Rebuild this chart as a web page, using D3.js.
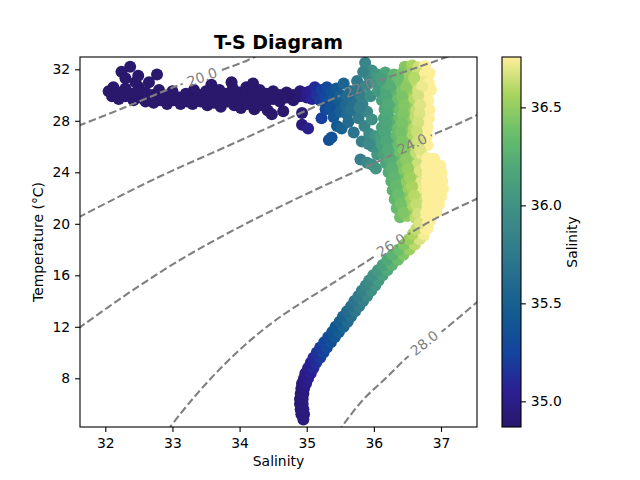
<!DOCTYPE html>
<html>
<head>
<meta charset="utf-8">
<script src="https://d3js.org/d3.v7.min.js"></script>
<style>
  body { margin: 0; background: #fff; }
  svg text { font-family: "DejaVu Sans", sans-serif; }
</style>
</head>
<body>
<script>
(function (){

    //values, every point is [salinity, temperature]

    //warm fresh surface water (dark end of the colour scale)
    var surfacePts = [
        [32.05,30.3],[32.1,29.9],[32.12,30.6],[32.2,30.2],[32.2,29.7],[32.24,31.8],[32.3,30.5],[32.3,29.9],
        [32.3,31.3],[32.37,32.2],[32.4,30.1],[32.42,29.6],[32.45,31.0],[32.49,31.5],[32.5,30.6],[32.52,29.8],
        [32.6,30.2],[32.6,29.5],[32.65,31.0],[32.7,30.0],[32.72,29.4],[32.77,31.6],[32.8,30.4],[32.82,29.6],
        [32.9,29.9],[32.92,29.3],[33.0,30.3],[33.02,29.6],[33.1,29.8],[33.12,29.3],[33.2,30.1],[33.22,29.5],
        [33.3,29.8],[33.3,29.3],[33.32,30.4],[33.4,30.0],[33.42,29.5],[33.5,30.3],[33.5,29.7],[33.52,29.2],
        [33.58,30.8],[33.6,30.0],[33.62,29.4],[33.7,30.4],[33.7,29.7],[33.72,29.1],[33.8,30.1],[33.82,29.5],
        [33.88,31.0],[33.9,30.5],[33.9,29.8],[33.92,29.2],[34.0,30.2],[34.0,29.6],[34.02,29.0],[34.1,30.6],
        [34.1,29.9],[34.12,29.3],[34.2,30.9],[34.2,30.2],[34.2,29.6],[34.22,28.9],[34.3,30.4],[34.3,29.8],
        [34.32,29.2],[34.4,30.1],[34.4,29.5],[34.42,28.8],[34.48,28.5],[34.5,30.3],[34.5,29.7],[34.6,30.0],
        [34.6,29.5],[34.65,28.75],[34.7,30.2],[34.7,29.8],[34.8,30.0],[34.8,29.6],[34.9,29.9],[34.9,30.3],
        [34.93,28.6],[34.93,27.7],[35.0,29.8],[35.0,30.2],[35.02,27.4]
    ];

    //mixing between surface and the salty column
    var transitionPts = [
        [35.05,30.3],[35.08,29.7],[35.12,30.6],[35.15,30.0],[35.2,29.6],[35.22,30.4],[35.27,29.9],[35.3,30.6],
        [35.33,29.5],[35.37,30.2],[35.4,29.8],[35.44,30.5],[35.47,29.4],[35.5,30.0],
        [35.22,28.2],[35.28,28.9],[35.35,29.0],[35.4,28.3],[35.45,27.6],[35.5,28.7],[35.52,27.4],[35.33,26.5],[35.37,26.7],
        [35.55,30.9],[35.58,29.2],[35.6,28.5],[35.62,27.9],[35.65,30.3],[35.68,29.6],[35.7,27.1],[35.72,28.8],
        [35.75,31.1],[35.77,28.2],[35.8,30.0],[35.82,26.4],[35.83,29.3],[35.86,27.6],[35.88,30.7],[35.9,28.7],
        [35.92,31.5],[35.93,27.0],[35.95,29.9],[35.97,28.1],[35.87,32.5],[35.97,31.9],
        [35.8,25.0],[35.9,24.75],[35.97,24.6],[36.03,24.3],[36.05,25.4],[35.98,26.0],[36.02,26.8],
        [35.6,29.9],[35.73,30.4],[35.66,28.9],[35.79,29.0],[35.84,31.8],[35.92,26.2]
    ];

    //salty upper column
    var upperPts = [
        [36.46,32.2],[36.57,32.3],[36.66,32.15],[36.76,32.25],
        [36.05,31.6],[36.17,31.75],[36.3,31.6],[36.42,31.7],[36.53,31.65],[36.65,31.75],[36.76,31.6],[36.83,31.7],
        [36.02,31.0],[36.13,30.9],[36.26,31.1],[36.38,30.95],[36.5,31.05],[36.61,30.9],[36.72,31.05],[36.82,30.95],
        [36.06,30.3],[36.18,30.4],[36.3,30.25],[36.42,30.35],[36.54,30.2],[36.66,30.35],[36.77,30.25],[36.85,30.4],
        [36.12,29.6],[36.24,29.5],[36.36,29.65],[36.48,29.55],[36.6,29.7],[36.71,29.5],[36.81,29.6],
        [36.16,28.9],[36.27,29.0],[36.39,28.85],[36.51,28.95],[36.63,28.8],[36.74,28.95],[36.83,28.85],
        [36.15,28.2],[36.26,28.1],[36.38,28.25],[36.5,28.15],[36.62,28.3],[36.73,28.1],[36.82,28.2],
        [36.12,27.5],[36.24,27.6],[36.36,27.45],[36.48,27.55],[36.6,27.4],[36.71,27.55],[36.8,27.5],
        [36.1,26.8],[36.22,26.7],[36.34,26.85],[36.46,26.75],[36.58,26.9],[36.69,26.75],[36.79,26.8],
        [36.12,26.1],[36.24,26.2],[36.36,26.05],[36.48,26.15],[36.6,26.0],[36.7,26.15],[36.8,26.1],
        [36.15,25.4],[36.27,25.3],[36.39,25.45],[36.51,25.35],[36.63,25.5],[36.72,25.35],
        [36.18,24.7],[36.3,24.8],[36.42,24.65],[36.54,24.75],[36.65,24.6],
        [36.22,24.0],[36.33,23.9],[36.45,24.05],[36.57,23.95],[36.68,24.1],
        [36.26,23.3],[36.37,23.4],[36.49,23.25],[36.61,23.35],[36.7,23.2],
        [36.28,22.6],[36.4,22.5],[36.52,22.65],[36.63,22.55],[36.72,22.7],
        [36.31,21.9],[36.43,22.0],[36.55,21.85],[36.66,21.95],
        [36.34,21.2],[36.46,21.1],[36.58,21.25],[36.69,21.15],
        [36.39,20.5],[36.5,20.6],[36.62,20.45],[36.72,20.55],
        [36.1,31.3],[36.36,31.35],[36.6,31.35],[36.24,30.65],[36.48,30.6],[36.72,30.65],[36.18,29.95],
        [36.42,29.9],[36.66,29.95],[36.21,29.25],[36.45,29.2],[36.69,29.25],[36.2,28.55],[36.44,28.5],
        [36.68,28.55],[36.18,27.85],[36.42,27.8],[36.66,27.85],[36.16,27.15],[36.4,27.1],[36.64,27.15],
        [36.18,26.45],[36.42,26.4],[36.66,26.45],[36.21,25.75],[36.45,25.7],[36.69,25.75],[36.24,25.05],
        [36.48,25.0],[36.27,24.35],[36.51,24.3],[36.3,23.65],[36.54,23.6],[36.33,22.95],[36.57,22.9],
        [36.36,22.25],[36.6,22.2],[36.4,21.55],[36.63,21.5],[36.44,20.85],[36.66,20.8]
    ];

    //salinity maximum core
    var corePts = [
        [36.8,25.1],[36.9,25.05],
        [36.78,24.5],[36.9,24.45],[36.99,24.5],
        [36.8,23.9],[36.92,23.85],[37.01,23.95],
        [36.79,23.3],[36.91,23.25],[37.02,23.3],
        [36.8,22.7],[36.92,22.65],[37.03,22.7],
        [36.8,22.1],[36.91,22.05],[37.0,22.1],
        [36.8,21.5],[36.9,21.45],[36.97,21.5],
        [36.78,20.9],[36.87,20.85],[36.93,20.9],
        [36.76,20.3],[36.84,20.25],
        [36.72,19.7],[36.8,19.65],
        [36.68,19.1],[36.74,19.05]
    ];

    //thermocline down to deep water
    var deepPts = [
        [34.95,4.8],
        [34.92,5.2],[34.96,5.2],[34.91,5.6],[34.95,5.6],[34.9,6.0],[34.94,6.0],[34.9,6.4],[34.94,6.4],
        [34.91,6.8],[34.95,6.8],[34.92,7.2],[34.96,7.2],[34.93,7.6],[34.99,7.6],[34.96,8.0],[35.02,8.0],
        [34.98,8.4],[35.06,8.4],[35.02,8.8],[35.1,8.8],[35.06,9.2],[35.14,9.2],[35.1,9.6],[35.2,9.6],
        [35.15,10.0],[35.25,10.0],[35.2,10.4],[35.3,10.4],[35.26,10.8],[35.36,10.8],[35.32,11.2],[35.42,11.2],
        [35.38,11.6],[35.48,11.6],[35.43,12.0],[35.55,12.0],[35.49,12.4],[35.61,12.4],[35.54,12.8],[35.66,12.8],
        [35.6,13.2],[35.72,13.2],[35.66,13.6],[35.78,13.6],[35.71,14.0],[35.84,14.0],[35.77,14.4],[35.9,14.4],
        [35.82,14.8],[35.96,14.8],[35.88,15.2],[36.02,15.2],[35.93,15.6],[36.07,15.6],[35.99,16.0],[36.13,16.0],
        [36.06,16.4],[36.2,16.4],[36.13,16.8],[36.27,16.8],[36.2,17.2],[36.36,17.2],[36.28,17.6],[36.44,17.6],
        [36.37,18.0],[36.53,18.0],[36.45,18.4],[36.61,18.4],[36.52,18.8],[36.68,18.8],[36.58,19.2],[36.74,19.2],
        [36.63,19.6],[36.77,19.6],[36.68,20.0],[36.8,20.0]
    ];

    //density (sigma) contours
    var contour20 = [[31.6,27.61],[32.268,28.99],[33.013,30.6],[33.44,31.4],[34.106,32.67],[34.27,33.1]];
    var contour22 = [[31.6,20.5],[32.766,23.56],[33.857,26.12],[34.9,28.58],[35.779,30.55],[36.881,32.57],[37.21,33.19]];
    var contour24 = [[31.6,11.88],[32.368,14.7],[33.113,17.19],[33.857,19.36],[34.602,21.33],[35.347,23.17],[36.113,24.96],[36.568,26.2],[37.283,27.83],[37.6,28.6]];
    var contour26 = [[32.93,3.9],[32.964,4.19],[33.262,6.16],[33.634,8.33],[34.081,10.59],[34.602,12.76],[35.347,15.25],[36.042,17.58],[36.255,18.35],[36.881,20.3],[37.6,22.1]];
    var contour28 = [[35.46,3.8],[35.823,6.24],[36.195,8.1],[36.538,9.81],[36.985,11.52],[37.6,14.2]];
    var contourLevels = ["20.0", "22.0", "24.0", "26.0", "28.0"];
    var contourLabelAt = [[33.44,31.4],[35.779,30.55],[36.568,26.2],[36.255,18.35],[36.75,10.75]];

    //axis limits and ticks
    var salinityLimits = [31.623, 37.536];
    var temperatureLimits = [4.217, 32.955];
    var colourLimits = [34.869, 36.757];
    var xTicks = [32, 33, 34, 35, 36, 37];
    var yTicks = [8, 12, 16, 20, 24, 28, 32];
    var colourTicks = [35.0, 35.5, 36.0, 36.5];

    //haline-like colour map
    var mapStops = [0, 0.1, 0.2, 0.3, 0.4, 0.5, 0.6, 0.7, 0.8, 0.9, 1.0];
    var mapColours = ["#2a186c", "#2b1f96", "#14449e", "#115a92", "#246c8e", "#367f8a",
                      "#409385", "#4ea879", "#6dbf6a", "#a9d45d", "#fdef9a"];

    window.onload = drawChart();

function drawChart(){
    var width = 640,
        height = 480,
        left = 80, right = 477, top = 57, bottom = 427,
        fontSize = 13.9,
        tickLen = 4.9;

    var svg = d3.select("body")
        .append("svg")
        .attr("width", width)
        .attr("height", height);

    var x = d3.scaleLinear().domain(salinityLimits).range([left, right]);
    var y = d3.scaleLinear().domain(temperatureLimits).range([bottom, top]);

    //colour scale from salinity
    var colour = d3.scaleLinear()
        .domain(mapStops.map(function(f){ return colourLimits[0] + f * (colourLimits[1] - colourLimits[0]); }))
        .range(mapColours)
        .interpolate(d3.interpolateRgb)
        .clamp(true);

    var defs = svg.append("defs");
    defs.append("clipPath").attr("id", "plotClip")
        .append("rect")
        .attr("x", left).attr("y", top)
        .attr("width", right - left).attr("height", bottom - top);

    //scatter
    var allPts = surfacePts.concat(transitionPts, upperPts, corePts, deepPts);
    svg.append("g")
        .attr("clip-path", "url(#plotClip)")
        .selectAll("circle")
        .data(allPts)
        .enter()
        .append("circle")
        .attr("cx", function(d){ return x(d[0]); })
        .attr("cy", function(d){ return y(d[1]); })
        .attr("r", 6)
        .style("fill", function(d){ return colour(d[0]); });

    //contours with gaps under the labels
    var contours = [contour20, contour22, contour24, contour26, contour28];
    var mask = defs.append("mask").attr("id", "labelGaps")
        .attr("maskUnits", "userSpaceOnUse")
        .attr("x", 0).attr("y", 0).attr("width", width).attr("height", height);
    mask.append("rect").attr("width", width).attr("height", height).attr("fill", "white");

    var line = d3.line()
        .x(function(d){ return x(d[0]); })
        .y(function(d){ return y(d[1]); })
        .curve(d3.curveCatmullRom);

    var contourLayer = svg.append("g").attr("clip-path", "url(#plotClip)");
    contourLayer.append("g")
        .attr("mask", "url(#labelGaps)")
        .selectAll("path")
        .data(contours)
        .enter()
        .append("path")
        .attr("d", line)
        .style("fill", "none")
        .style("stroke", "#808080")
        .style("stroke-width", 2.1)
        .style("stroke-dasharray", "7.7,3.3");

    var labelLayer = svg.append("g");
    contours.forEach(function(c, i){
        var lx = x(contourLabelAt[i][0]),
            ly = y(contourLabelAt[i][1]);
        //angle of the line near the label
        var pts = c.map(function(p){ return [x(p[0]), y(p[1])]; });
        var k = 0, best = Infinity;
        pts.forEach(function(p, j){
            var dd = (p[0] - lx) * (p[0] - lx) + (p[1] - ly) * (p[1] - ly);
            if (dd < best){ best = dd; k = j; }
        });
        var a = pts[Math.max(k - 1, 0)], b = pts[Math.min(k + 1, pts.length - 1)];
        var angle = Math.atan2(b[1] - a[1], b[0] - a[0]) * 180 / Math.PI;
        var tf = "translate(" + lx + "," + ly + ") rotate(" + angle + ")";

        var t = labelLayer.append("text")
            .attr("transform", tf)
            .attr("text-anchor", "middle")
            .attr("dy", "0.36em")
            .style("font-size", fontSize + "px")
            .style("fill", "#808080")
            .text(contourLevels[i]);
        var w = t.node().getComputedTextLength();
        mask.append("rect")
            .attr("transform", tf)
            .attr("x", -w / 2 - 5).attr("y", -8)
            .attr("width", w + 10).attr("height", 16)
            .attr("fill", "black");
    });

    //frame
    svg.append("rect")
        .attr("x", left).attr("y", top)
        .attr("width", right - left).attr("height", bottom - top)
        .style("fill", "none").style("stroke", "#000").style("stroke-width", 1.1);

    //axes
    var xAxis = svg.append("g")
        .attr("transform", "translate(0," + bottom + ")")
        .call(d3.axisBottom(x).tickValues(xTicks).tickSize(tickLen).tickPadding(6).tickFormat(d3.format("d")));
    var yAxis = svg.append("g")
        .attr("transform", "translate(" + left + ",0)")
        .call(d3.axisLeft(y).tickValues(yTicks).tickSize(tickLen).tickPadding(4.9).tickFormat(d3.format("d")));
    [xAxis, yAxis].forEach(function(ax){
        ax.select(".domain").remove();
        ax.attr("font-family", "DejaVu Sans").attr("font-size", fontSize);
        ax.selectAll("line").style("stroke", "#000").style("stroke-width", 1.1);
        ax.selectAll("text").style("fill", "#000");
    });

    //titles
    svg.append("text")
        .attr("x", (left + right) / 2).attr("y", 49)
        .attr("text-anchor", "middle")
        .style("font-size", "19px").style("font-weight", "bold")
        .text("T-S Diagram");
    svg.append("text")
        .attr("x", (left + right) / 2).attr("y", 466)
        .attr("text-anchor", "middle")
        .style("font-size", fontSize + "px")
        .text("Salinity");
    svg.append("text")
        .attr("transform", "translate(43," + (top + bottom) / 2 + ") rotate(-90)")
        .attr("text-anchor", "middle")
        .style("font-size", fontSize + "px")
        .text("Temperature (°C)");

    //colour bar
    var barLeft = 502, barWidth = 19;
    var cbY = d3.scaleLinear().domain(colourLimits).range([bottom, top]);
    var grad = defs.append("linearGradient").attr("id", "haline")
        .attr("x1", 0).attr("y1", 1).attr("x2", 0).attr("y2", 0);
    grad.selectAll("stop")
        .data(mapStops)
        .enter()
        .append("stop")
        .attr("offset", function(d){ return d; })
        .attr("stop-color", function(d, i){ return mapColours[i]; });
    svg.append("rect")
        .attr("x", barLeft).attr("y", top)
        .attr("width", barWidth).attr("height", bottom - top)
        .style("fill", "url(#haline)")
        .style("stroke", "#000").style("stroke-width", 1.1);
    var cAxis = svg.append("g")
        .attr("transform", "translate(" + (barLeft + barWidth) + ",0)")
        .call(d3.axisRight(cbY).tickValues(colourTicks).tickSize(tickLen).tickPadding(4.9).tickFormat(d3.format(".1f")));
    cAxis.select(".domain").remove();
    cAxis.attr("font-family", "DejaVu Sans").attr("font-size", fontSize);
    cAxis.selectAll("line").style("stroke", "#000").style("stroke-width", 1.1);
    cAxis.selectAll("text").style("fill", "#000");
    svg.append("text")
        .attr("transform", "translate(577," + (top + bottom) / 2 + ") rotate(-90)")
        .attr("text-anchor", "middle")
        .style("font-size", fontSize + "px")
        .text("Salinity");
};

})();
</script>
</body>
</html>
